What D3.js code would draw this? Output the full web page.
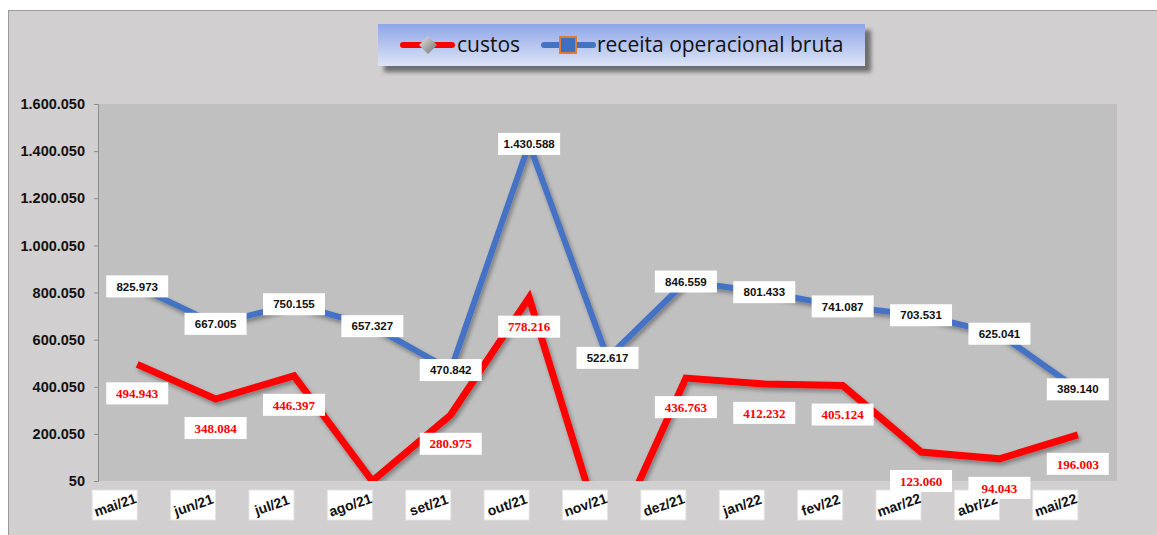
<!DOCTYPE html>
<html>
<head>
<meta charset="utf-8">
<script src="https://cdn.jsdelivr.net/npm/d3@7"></script>
<style>
  body { margin: 0; background: #fff; }
</style>
</head>
<body>
<div id="container"></div>
<script>
// data
const months = ["mai/21","jun/21","jul/21","ago/21","set/21","out/21","nov/21","dez/21","jan/22","fev/22","mar/22","abr/22","mai/22"]
const custos = [494943, 348084, 446397, 0, 280975, 778216, -300000, 436763, 412232, 405124, 123060, 94043, 196003]
const receita = [825973, 667005, 750155, 657327, 470842, 1430588, 522617, 846559, 801433, 741087, 703531, 625041, 389140]
const yTicks = [50, 200050, 400050, 600050, 800050, 1000050, 1200050, 1400050, 1600050]
// labels that excel could not place inside the plot
const hiddenCustos = ["ago/21", "nov/21"]

const width = 1157, height = 535
const plot = { left: 98, right: 1117, top: 104, bottom: 481 }

const svg = d3.select("#container").append("svg")
  .attr("width", width)
  .attr("height", height)
  .style("font-family", "'Liberation Sans', Arial, sans-serif")

const defs = svg.append("defs")

// drop shadow under the lines
const shadow = defs.append("filter").attr("id", "shadow")
  .attr("x", "-10%").attr("y", "-10%").attr("width", "120%").attr("height", "130%")
shadow.append("feDropShadow")
  .attr("dx", 2).attr("dy", 3).attr("stdDeviation", 2)
  .attr("flood-color", "#000").attr("flood-opacity", 0.35)

const legendShadow = defs.append("filter").attr("id", "legendShadow")
  .attr("x", "-10%").attr("y", "-30%").attr("width", "120%").attr("height", "170%")
legendShadow.append("feGaussianBlur").attr("stdDeviation", 2)

const grad = defs.append("linearGradient").attr("id", "legendGrad")
  .attr("x1", 0).attr("y1", 0).attr("x2", 0).attr("y2", 1)
grad.append("stop").attr("offset", "0%").attr("stop-color", "#8ea6e8")
grad.append("stop").attr("offset", "100%").attr("stop-color", "#dde4f6")

const diamondGrad = defs.append("linearGradient").attr("id", "diamondGrad")
  .attr("x1", 0).attr("y1", 0).attr("x2", 1).attr("y2", 1)
diamondGrad.append("stop").attr("offset", "0%").attr("stop-color", "#e8e8e8")
diamondGrad.append("stop").attr("offset", "100%").attr("stop-color", "#6e6e6e")

defs.append("clipPath").attr("id", "plotClip")
  .append("rect")
    .attr("x", plot.left).attr("y", plot.top)
    .attr("width", plot.right - plot.left).attr("height", plot.bottom - plot.top)

// chart background with its thin border
svg.append("rect")
  .attr("x", 8.5).attr("y", 10.5)
  .attr("width", width - 8).attr("height", height - 8)
  .attr("fill", "#d1cfcf")
  .attr("stroke", "#9a9a9a")

// plot area
svg.append("rect")
  .attr("x", plot.left).attr("y", plot.top)
  .attr("width", plot.right - plot.left).attr("height", plot.bottom - plot.top)
  .attr("fill", "#c0c0c0")

const x = d3.scalePoint()
  .domain(months)
  .range([plot.left, plot.right])
  .padding(0.5)

const y = d3.scaleLinear()
  .domain([50, 1600050])
  .range([plot.bottom, plot.top])

// y axis
const yAxis = svg.append("g")
  .attr("transform", `translate(${plot.left},0)`)
  .call(d3.axisLeft(y).tickValues(yTicks).tickSize(4).tickPadding(9)
    .tickFormat(d => d3.format(",")(d).replace(/,/g, ".")))
yAxis.select(".domain").attr("stroke", "#8c8c8c")
yAxis.selectAll(".tick line").attr("stroke", "#8c8c8c")
yAxis.selectAll("text")
  .attr("font-size", 14.5)
  .attr("font-weight", "bold")
  .attr("fill", "#111")
  .attr("font-family", "'Liberation Sans', Arial, sans-serif")

// lines
const line = d3.line()
  .x((d, i) => x(months[i]))
  .y(d => y(d))

const lines = svg.append("g").attr("clip-path", "url(#plotClip)")
lines.append("path")
  .datum(receita)
  .attr("d", line)
  .attr("fill", "none")
  .attr("stroke", "#4472c4")
  .attr("stroke-width", 6)
  .attr("filter", "url(#shadow)")
lines.append("path")
  .datum(custos)
  .attr("d", line)
  .attr("fill", "none")
  .attr("stroke", "#ff0000")
  .attr("stroke-width", 7)
  .attr("filter", "url(#shadow)")

// category labels, tilted inside white boxes
const xl = svg.append("g")
  .selectAll("g")
  .data(months)
  .enter()
  .append("g")
    .attr("transform", d => `translate(${x(d) - 22},505)`)
xl.append("rect")
  .attr("x", -23).attr("y", -15)
  .attr("width", 45).attr("height", 30)
  .attr("fill", "#fff")
  .attr("stroke", "#e4e4e4")
xl.append("text")
  .attr("text-anchor", "middle")
  .attr("dy", "0.35em")
  .attr("transform", "rotate(-19)")
  .attr("font-size", 14)
  .attr("font-weight", "bold")
  .attr("fill", "#111")
  .text(d => d)

// value labels in white boxes (drawn after the category labels, they sit on top)
function addLabels(values, offset, colour, font, size, skip) {
  const g = svg.append("g")
    .selectAll("g")
    .data(values.map((v, i) => ({ v: v, m: months[i] })).filter(d => !skip.includes(d.m)))
    .enter()
    .append("g")
      .attr("transform", d => `translate(${x(d.m)},${y(d.v) + offset})`)
  g.append("rect")
    .attr("x", -31).attr("y", -11)
    .attr("width", 62).attr("height", 22)
    .attr("fill", "#fff")
  g.append("text")
    .attr("text-anchor", "middle")
    .attr("dy", "0.36em")
    .attr("font-family", font)
    .attr("font-size", size)
    .attr("font-weight", "bold")
    .attr("fill", colour)
    .text(d => d3.format(",")(d.v).replace(/,/g, "."))
}
addLabels(receita, 0, "#111", "'Liberation Sans', Arial, sans-serif", 11.5, [])
addLabels(custos, 29, "#ff0000", "'Liberation Serif', 'Times New Roman', serif", 13, hiddenCustos)

// legend
const legend = svg.append("g")
legend.append("rect")
  .attr("x", 384).attr("y", 30)
  .attr("width", 487).attr("height", 42)
  .attr("fill", "#6e6e6e")
  .attr("filter", "url(#legendShadow)")
legend.append("rect")
  .attr("x", 378).attr("y", 24)
  .attr("width", 487).attr("height", 42)
  .attr("fill", "url(#legendGrad)")

legend.append("line")
  .attr("x1", 403).attr("x2", 452).attr("y1", 45).attr("y2", 45)
  .attr("stroke", "#ff0000").attr("stroke-width", 6).attr("stroke-linecap", "round")
legend.append("path")
  .attr("d", "M428,36 L437,45 L428,54 L419,45 Z")
  .attr("fill", "url(#diamondGrad)")
legend.append("text")
  .attr("x", 457).attr("y", 52)
  .attr("font-family", "'Open Sans', 'Noto Sans', sans-serif")
  .attr("font-size", 21)
  .attr("fill", "#111")
  .text("custos")

legend.append("line")
  .attr("x1", 544).attr("x2", 593).attr("y1", 45).attr("y2", 45)
  .attr("stroke", "#4472c4").attr("stroke-width", 6).attr("stroke-linecap", "round")
legend.append("rect")
  .attr("x", 560).attr("y", 37)
  .attr("width", 16).attr("height", 16)
  .attr("fill", "#3f6fc0")
  .attr("stroke", "#e07a30")
  .attr("stroke-width", 2)
legend.append("text")
  .attr("x", 597).attr("y", 52)
  .attr("font-family", "'Open Sans', 'Noto Sans', sans-serif")
  .attr("font-size", 21)
  .attr("fill", "#111")
  .text("receita operacional bruta")
</script>
</body>
</html>
